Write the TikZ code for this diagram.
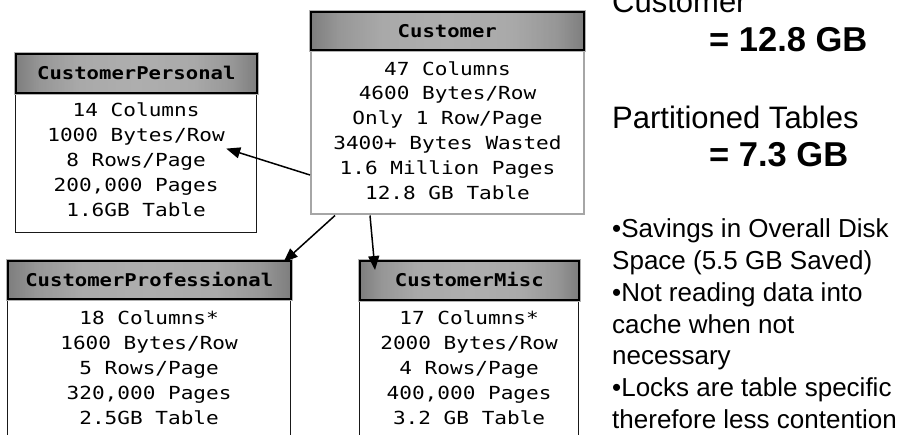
\documentclass[tikz,border=0pt]{standalone}
\usepackage{fontspec}
\setmainfont{Liberation Sans}
\newfontfamily\tablefont[FakeStretch=1.17]{DejaVu Sans Mono}
\usetikzlibrary{arrows.meta,calc,fadings}

% title bars: dark at both ends, light in the middle
\pgfdeclarehorizontalshading{headershade}{100bp}{%
  color(0bp)=(black!76); color(10bp)=(black!68); color(20bp)=(black!45);
  color(30bp)=(black!18); color(38bp)=(black!8); color(50bp)=(black!5);
  color(62bp)=(black!8); color(70bp)=(black!18); color(80bp)=(black!45);
  color(90bp)=(black!68); color(100bp)=(black!76)}
% darker rim along the top and bottom edges
\tikzfading[name=rimfade, top color=transparent!72, middle color=transparent!100,
  bottom color=transparent!72]

\tikzset{
  header/.style={rectangle, anchor=north west, shading=headershade,
    draw=black, line width=1.6bp, preaction={draw=black!30, line width=3.6bp},
    postaction={fill=black, path fading=rimfade},
    inner sep=0pt, text height=12.8bp, text depth=0bp,
    font=\tablefont\bfseries\fontsize{17.6bp}{20bp}\selectfont},
  body/.style={rectangle, anchor=north west, draw=black!90, line width=1.2bp,
    inner sep=0pt},
  rows/.style={anchor=north, align=center, inner sep=0pt,
    font=\tablefont\fontsize{18bp}{24.8bp}\selectfont},
  link/.style={line width=1.5bp, -{Triangle[length=14bp,width=11bp]}},
  note/.style={anchor=base west, inner sep=0pt, font=\fontsize{26bp}{31.7bp}\selectfont},
  big/.style={anchor=base west, inner sep=0pt, font=\fontsize{31bp}{36bp}\selectfont},
  bigbold/.style={anchor=base west, inner sep=0pt, font=\fontsize{34.5bp}{40bp}\selectfont\bfseries},
}

\begin{document}
\begin{tikzpicture}[x=1bp,y=-1bp]
\useasboundingbox (0,0) rectangle (906,435);
\clip (0,0) rectangle (906,435);

% table frames
\node[body, draw=black!35, line width=2bp, minimum width=273bp, minimum height=164.5bp] (cust-b) at (310,49) {};
\node[body, minimum width=241bp, minimum height=140bp] (pers-b) at (15,92) {};
\node[body, minimum width=283bp, minimum height=180bp] (prof-b) at (7,298) {};
\node[body, minimum width=219bp, minimum height=180bp] (misc-b) at (359,299) {};

% title bars
\node[header, minimum width=273bp, minimum height=38bp] (cust-h) at (310,11) {Customer};
\node[header, minimum width=241bp, minimum height=39bp] (pers-h) at (15,53) {CustomerPersonal};
\node[header, minimum width=283bp, minimum height=38bp] (prof-h) at (7,260) {CustomerProfessional};
\node[header, minimum width=219bp, minimum height=39bp] (misc-h) at (359,260) {CustomerMisc};

% table statistics
\node[rows] (cust-t) at ($(cust-b.north)+(0,12.2)$)
  {47 Columns\\4600 Bytes/Row\\Only 1 Row/Page\\3400+ Bytes Wasted\\1.6 Million Pages\\12.8 GB Table};
\node[rows] (pers-t) at ($(pers-b.north)+(0,10.9)$)
  {14 Columns\\1000 Bytes/Row\\8 Rows/Page\\200,000 Pages\\1.6GB Table};
\node[rows] (prof-t) at ($(prof-b.north)+(0,12.9)$)
  {18 Columns*\\1600 Bytes/Row\\5 Rows/Page\\320,000 Pages\\2.5GB Table};
\node[rows] (misc-t) at ($(misc-b.north)+(0,11.9)$)
  {17 Columns*\\2000 Bytes/Row\\4 Rows/Page\\400,000 Pages\\3.2 GB Table};

% split arrows
\draw[link] ($(cust-b.south west)+(0,-40.5)$) -- ($(pers-b.east)+(-31,-14)$);
\draw[link] ($(cust-b.south west)+(25,0)$) -- ($(prof-h.north east)+(-8,2)$);
\draw[link] ($(cust-b.south west)+(60,0)$) -- ($(misc-h.north west)+(16,10)$);

% size summary
\node[big] (sum-a) at (612,13) {Customer};
\node[bigbold] (sum-b) at (709,52) {= 12.8 GB};
\node[big] (sum-c) at (612,129) {Partitioned Tables};
\node[bigbold] (sum-d) at (709,167) {= 7.3 GB};

% benefits
\node[note] (n1) at (612,238) {•Savings in Overall Disk};
\node[note] (n2) at (612,269.7) {Space (5.5 GB Saved)};
\node[note] (n3) at (612,301.4) {•Not reading data into};
\node[note] (n4) at (612,333.1) {cache when not};
\node[note] (n5) at (612,364.8) {necessary};
\node[note] (n6) at (612,396.5) {•Locks are table specific};
\node[note] (n7) at (612,428.2) {therefore less contention};
\end{tikzpicture}
\end{document}
